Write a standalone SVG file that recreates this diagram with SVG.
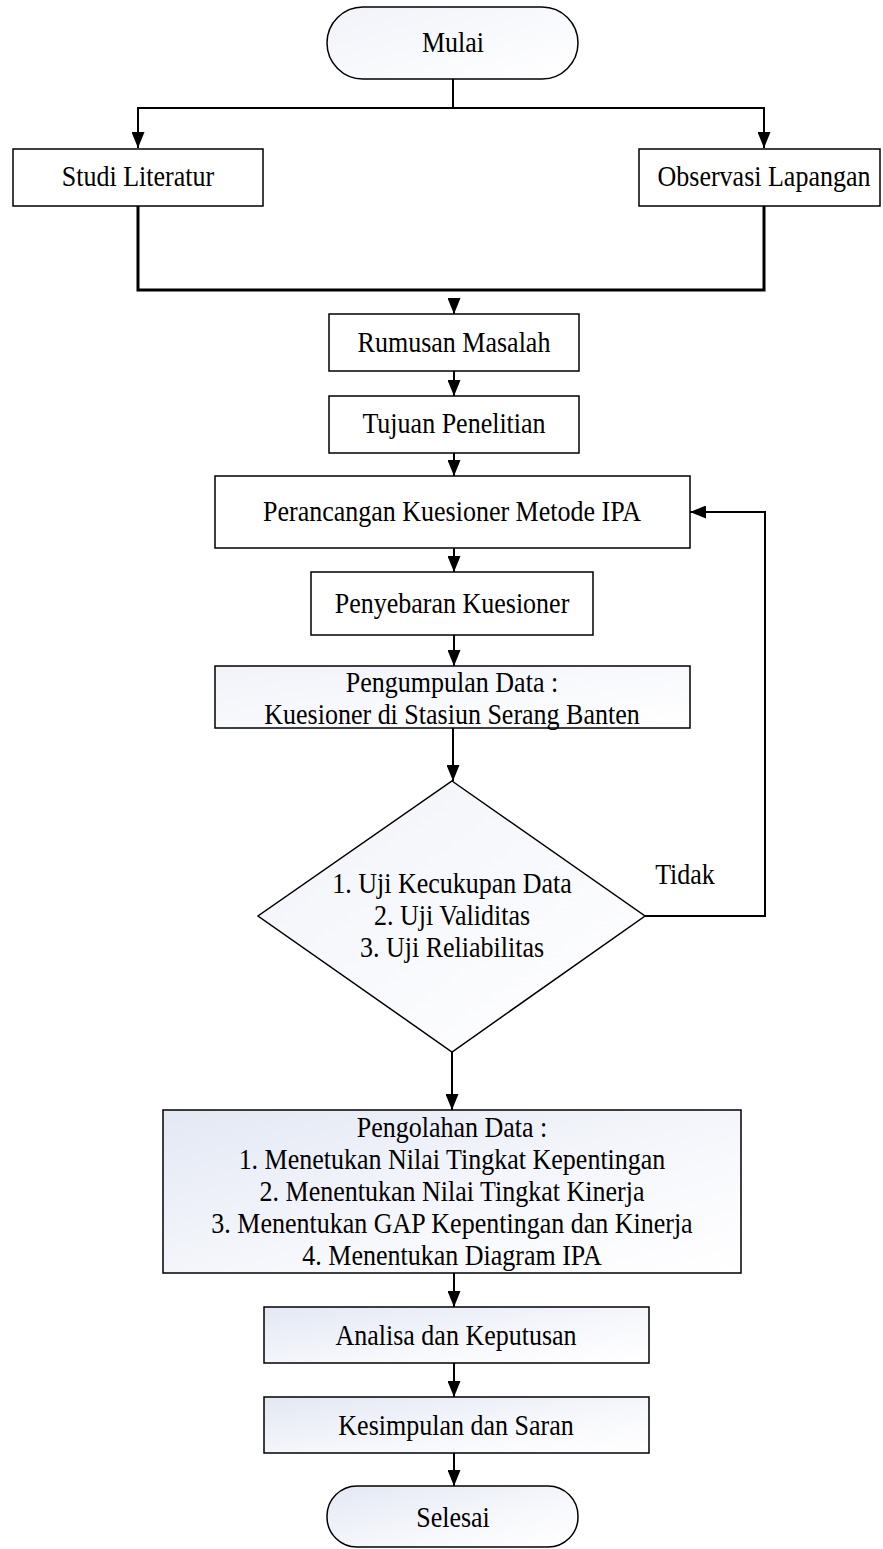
<svg xmlns="http://www.w3.org/2000/svg" width="883" height="1549" viewBox="0 0 883 1549">
<style>
.box{stroke:#000;stroke-width:1.5}
.w{fill:#fff}
.g{fill:url(#grad)}
.t{font-family:"Liberation Serif","Times New Roman",serif;font-size:26px;fill:#000;text-anchor:middle}
.c{fill:none;stroke:#000;stroke-width:2}
</style>
<defs>
<linearGradient id="grad" x1="0" y1="0" x2="1" y2="1">
<stop offset="0" stop-color="#e3e8f4"/>
<stop offset="0.6" stop-color="#f7f8fc"/>
<stop offset="1" stop-color="#ffffff"/>
</linearGradient>
<linearGradient id="gradL" x1="0" y1="0" x2="1" y2="1">
<stop offset="0" stop-color="#f1f3f9"/>
<stop offset="1" stop-color="#ffffff"/>
</linearGradient>
<marker id="arr" markerUnits="userSpaceOnUse" markerWidth="16" markerHeight="13" refX="16" refY="6.5" orient="auto">
<path d="M0,0 L16,6.5 L0,13 z" fill="#000"/>
</marker>
</defs>
<g id="connectors">
<path class="c" d="M453,79 V108"/>
<path class="c" d="M453,108 H138 V148" marker-end="url(#arr)"/>
<path class="c" d="M453,108 H764 V148" marker-end="url(#arr)"/>
<path class="c" d="M138,206 V290 H764 V206" style="stroke-width:3"/>
<path class="c" d="M454,298 V314" marker-end="url(#arr)"/>
<path class="c" d="M454,371 V396" marker-end="url(#arr)"/>
<path class="c" d="M454,453 V476" marker-end="url(#arr)"/>
<path class="c" d="M454,548 V572" marker-end="url(#arr)"/>
<path class="c" d="M454,635 V666" marker-end="url(#arr)"/>
<path class="c" d="M453,728 V781" marker-end="url(#arr)"/>
<path class="c" d="M645,916 H765 V512 H690" marker-end="url(#arr)"/>
<path class="c" d="M452,1052 V1110" marker-end="url(#arr)"/>
<path class="c" d="M454,1273 V1307" marker-end="url(#arr)"/>
<path class="c" d="M454,1363 V1397" marker-end="url(#arr)"/>
<path class="c" d="M454,1453 V1486" marker-end="url(#arr)"/>
<text class="t" transform="translate(685,884) scale(1,1.1)">Tidak</text>
</g>
<g id="mulai">
<rect class="box" x="327" y="7" width="251" height="72" rx="36" ry="36" fill="url(#gradL)"/>
<text class="t" transform="translate(453,52) scale(1,1.1)">Mulai</text>
</g>
<g id="studi">
<rect class="box w" x="13" y="149" width="250" height="57"/>
<text class="t" transform="translate(138,186) scale(1,1.1)">Studi Literatur</text>
</g>
<g id="observasi">
<rect class="box w" x="639" y="149" width="241" height="57"/>
<text class="t" transform="translate(764,186) scale(1,1.1)">Observasi Lapangan</text>
</g>
<g id="rumusan">
<rect class="box w" x="329" y="314" width="250" height="57"/>
<text class="t" transform="translate(454,352) scale(1,1.1)">Rumusan Masalah</text>
</g>
<g id="tujuan">
<rect class="box w" x="329" y="396" width="250" height="57"/>
<text class="t" transform="translate(454,433) scale(1,1.1)">Tujuan Penelitian</text>
</g>
<g id="perancangan">
<rect class="box w" x="215" y="476" width="475" height="72"/>
<text class="t" transform="translate(452,521) scale(1,1.1)">Perancangan Kuesioner Metode IPA</text>
</g>
<g id="penyebaran">
<rect class="box w" x="311" y="572" width="282" height="63"/>
<text class="t" transform="translate(452,613) scale(1,1.1)">Penyebaran Kuesioner</text>
</g>
<g id="pengumpulan">
<rect class="box" x="215" y="666" width="475" height="62" fill="url(#gradL)"/>
<text class="t" transform="translate(452,692) scale(1,1.1)">Pengumpulan Data :</text>
<text class="t" transform="translate(452,724) scale(1,1.1)">Kuesioner di Stasiun Serang Banten</text>
</g>
<g id="uji">
<polygon class="box" points="452,781 645,916 452,1052 258,916" fill="url(#gradL)"/>
<text class="t" transform="translate(452,893) scale(1,1.1)">1. Uji Kecukupan Data</text>
<text class="t" transform="translate(452,925) scale(1,1.1)">2. Uji Validitas</text>
<text class="t" transform="translate(452,957) scale(1,1.1)">3. Uji Reliabilitas</text>
</g>
<g id="pengolahan">
<rect class="box g" x="163" y="1110" width="578" height="163"/>
<text class="t" transform="translate(452,1137) scale(1,1.1)">Pengolahan Data :</text>
<text class="t" transform="translate(452,1169) scale(1,1.1)">1. Menetukan Nilai Tingkat Kepentingan</text>
<text class="t" transform="translate(452,1201) scale(1,1.1)">2. Menentukan Nilai Tingkat Kinerja</text>
<text class="t" transform="translate(452,1233) scale(1,1.1)">3. Menentukan GAP Kepentingan dan Kinerja</text>
<text class="t" transform="translate(452,1265) scale(1,1.1)">4. Menentukan Diagram IPA</text>
</g>
<g id="analisa">
<rect class="box g" x="264" y="1307" width="385" height="56"/>
<text class="t" transform="translate(456,1345) scale(1,1.1)">Analisa dan Keputusan</text>
</g>
<g id="kesimpulan">
<rect class="box g" x="264" y="1397" width="385" height="56"/>
<text class="t" transform="translate(456,1435) scale(1,1.1)">Kesimpulan dan Saran</text>
</g>
<g id="selesai">
<rect class="box g" x="327" y="1486" width="251" height="61" rx="30" ry="30"/>
<text class="t" transform="translate(453,1527) scale(1,1.1)">Selesai</text>
</g>
</svg>
